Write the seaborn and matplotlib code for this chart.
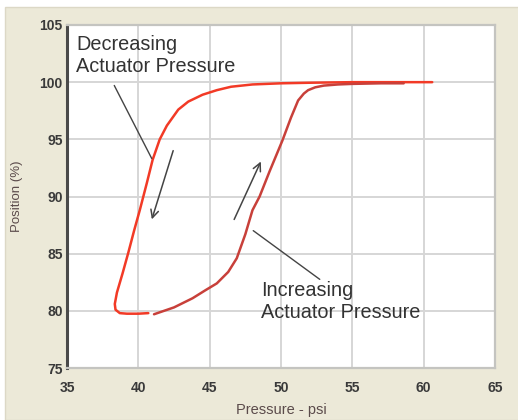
import matplotlib
matplotlib.use("Agg")
import matplotlib.pyplot as plt
import seaborn as sns
import pandas as pd
from matplotlib.patches import Rectangle

# Decreasing actuator pressure branch (bright red), traced from right to left
dec_pressure = [60.6, 58.0, 55.0, 52.0, 50.0, 48.0, 46.5, 45.5, 44.5, 43.5, 42.8, 42.0, 41.5, 41.0, 40.6, 40.1, 39.7, 39.3, 38.9, 38.5, 38.35, 38.4, 38.7, 39.2, 40.0, 40.7]
dec_position = [100.0, 100.0, 100.0, 99.95, 99.9, 99.8, 99.6, 99.3, 98.9, 98.3, 97.6, 96.2, 95.0, 93.2, 91.2, 88.8, 87.0, 85.1, 83.3, 81.6, 80.6, 80.1, 79.8, 79.75, 79.75, 79.8]

# Increasing actuator pressure branch (darker red)
inc_pressure = [41.1, 42.5, 43.8, 44.7, 45.5, 46.3, 46.9, 47.5, 48.0, 48.5, 49.2, 50.1, 50.7, 51.2, 51.6, 51.9, 52.4, 53.0, 54.0, 55.0, 57.0, 58.6]
inc_position = [79.7, 80.3, 81.1, 81.8, 82.4, 83.4, 84.6, 86.7, 88.8, 90.0, 92.2, 94.9, 96.9, 98.4, 99.0, 99.3, 99.55, 99.7, 99.8, 99.85, 99.9, 99.9]

x_ticks = [35, 40, 45, 50, 55, 60, 65]
y_ticks = [75, 80, 85, 90, 95, 100, 105]

sns.set_theme(style="white")
plt.rcParams['font.family'] = ['Liberation Sans', 'DejaVu Sans']

fig = plt.figure(figsize=(5.18, 4.2), dpi=100, facecolor="white")
fig.patches.append(Rectangle((5 / 518, 0), 1, 1 - 7 / 420, transform=fig.transFigure,
                             facecolor="#ECE9D8", edgecolor="#DCD8C6", linewidth=1, zorder=-10))
ax = fig.add_axes([67 / 518, 1 - 368 / 420, (495 - 67) / 518, (368 - 25) / 420])
ax.set_facecolor("white")

dec = pd.DataFrame({"p": dec_pressure, "pos": dec_position})
inc = pd.DataFrame({"p": inc_pressure, "pos": inc_position})
sns.lineplot(data=dec, x="p", y="pos", sort=False, estimator=None, color="#F23A26",
             linewidth=1.8, ax=ax, zorder=3)
sns.lineplot(data=inc, x="p", y="pos", sort=False, estimator=None, color="#C8403A",
             linewidth=1.8, ax=ax, zorder=4)

ax.set_xlim(35, 65)
ax.set_ylim(75, 105)
ax.set_xticks(x_ticks)
ax.set_yticks(y_ticks)
ax.set_xticklabels([str(v) for v in x_ticks], fontsize=10, fontweight="bold", color="#3A3A3A")
ax.set_yticklabels([str(v) for v in y_ticks], fontsize=10, fontweight="bold", color="#3A3A3A")
ax.grid(True, color="#D6D6D6", linewidth=1.4)
ax.tick_params(axis="x", length=0, pad=9)
ax.tick_params(axis="y", length=0, pad=3)
for s in ["top", "right", "bottom"]:
    ax.spines[s].set_color("#C4C4C0")
    ax.spines[s].set_linewidth(1.6)
ax.spines["left"].set_color("#4A4A4A")
ax.spines["left"].set_linewidth(2.2)

ax.set_xlabel("Pressure - psi", fontsize=10.5, color="#5B4B4B", labelpad=6)
ax.set_ylabel("Position (%)", fontsize=9.5, color="#5B4B4B", labelpad=12)

# Annotations (figure pixel coordinates converted to data via axes)
def px(x, y):
    return ax.transData.inverted().transform(fig.transFigure.transform((x / 518, 1 - y / 420)))

ax.text(*px(76, 55), "Decreasing\nActuator Pressure", fontsize=14.3, color="#333333",
        va="center", ha="left", linespacing=1.2, zorder=5)
ax.text(*px(261, 302), "Increasing\nActuator Pressure", fontsize=14.3, color="#333333",
        va="center", ha="left", linespacing=1.2, zorder=5)

ax.annotate("", xy=px(153, 161), xytext=px(113, 83),
            arrowprops=dict(arrowstyle="-", color="#444444", lw=1))
ax.annotate("", xy=px(322, 281), xytext=px(251, 229),
            arrowprops=dict(arrowstyle="-", color="#444444", lw=1))
ax.annotate("", xy=px(151, 222), xytext=px(174, 148),
            arrowprops=dict(arrowstyle="->", color="#444444", lw=1.1, mutation_scale=14))
ax.annotate("", xy=px(262, 159), xytext=px(233, 222),
            arrowprops=dict(arrowstyle="->", color="#444444", lw=1.1, mutation_scale=14))

fig.savefig("out.png", dpi=100, facecolor=fig.get_facecolor())
